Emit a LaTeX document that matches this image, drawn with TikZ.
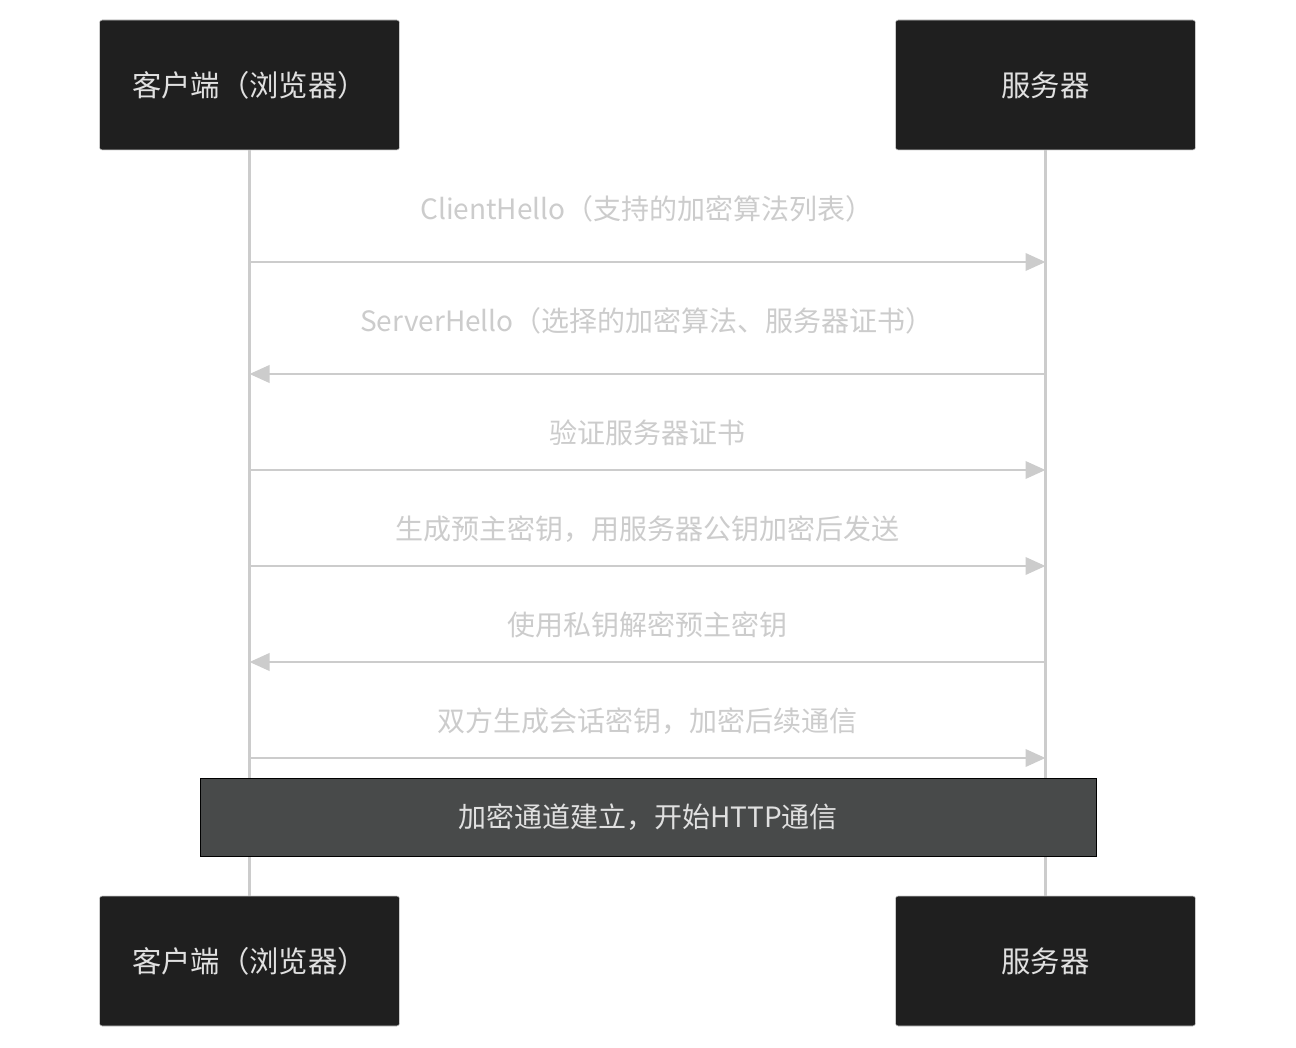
\documentclass[tikz,border=0pt]{standalone}
\usepackage{fontspec}
\setmainfont{Noto Sans CJK SC}
\usetikzlibrary{arrows.meta}
\definecolor{boxfill}{HTML}{1F1F1F}
\definecolor{boxline}{HTML}{CCCCCC}
\definecolor{msgcol}{HTML}{CCCCCC}
\definecolor{notefill}{HTML}{484A4A}
\definecolor{txt}{HTML}{E0E0E0}
\tikzset{
 actor/.style={draw=boxline,fill=boxfill,rounded corners=2pt,minimum width=300*0.75pt,minimum height=130*0.75pt,text=txt,font=\fontsize{22}{26}\selectfont,inner sep=0pt},
 life/.style={draw=boxline,line width=2.2pt},
 msg/.style={draw=msgcol,line width=2pt,-{Triangle[length=15pt,width=13pt]}},
 mlabel/.style={text=msgcol,font=\fontsize{21}{25}\selectfont,inner sep=0pt},
 note/.style={draw=black,fill=notefill,minimum width=896*0.75pt,minimum height=78*0.75pt,text=txt,font=\fontsize{21}{25}\selectfont,inner sep=0pt}
}
\begin{document}
\begin{tikzpicture}[x=0.75pt,y=-0.75pt]
\path[use as bounding box,fill=white] (0,0) rectangle (1296,1048);
\node[actor] (c1) at (249.5,85) {客户端（浏览器）};
\node[actor] (s1) at (1045.5,85) {服务器};
\node[actor] (c2) at (249.5,961) {客户端（浏览器）};
\node[actor] (s2) at (1045.5,961) {服务器};
\draw[life] (c1.south) -- (c2.north);
\draw[life] (s1.south) -- (s2.north);
\foreach \n/\y in {1/262,2/374,3/470,4/566,5/662,6/758}{
 \coordinate (cl\n) at (249.5,\y);
 \coordinate (sl\n) at (1045.5,\y);
}
\draw[msg] (cl1) -- (sl1);
\node[mlabel] (m1) at (647,209) {ClientHello（支持的加密算法列表）};
\draw[msg] (sl2) -- (cl2);
\node[mlabel] (m2) at (647,321) {ServerHello（选择的加密算法、服务器证书）};
\draw[msg] (cl3) -- (sl3);
\node[mlabel] (m3) at (647,433) {验证服务器证书};
\draw[msg] (cl4) -- (sl4);
\node[mlabel] (m4) at (647,529) {生成预主密钥，用服务器公钥加密后发送};
\draw[msg] (sl5) -- (cl5);
\node[mlabel] (m5) at (647,625) {使用私钥解密预主密钥};
\draw[msg] (cl6) -- (sl6);
\node[mlabel] (m6) at (647,721) {双方生成会话密钥，加密后续通信};
\node[note] (n) at (648,817) {加密通道建立，开始HTTP通信};
\end{tikzpicture}
\end{document}
